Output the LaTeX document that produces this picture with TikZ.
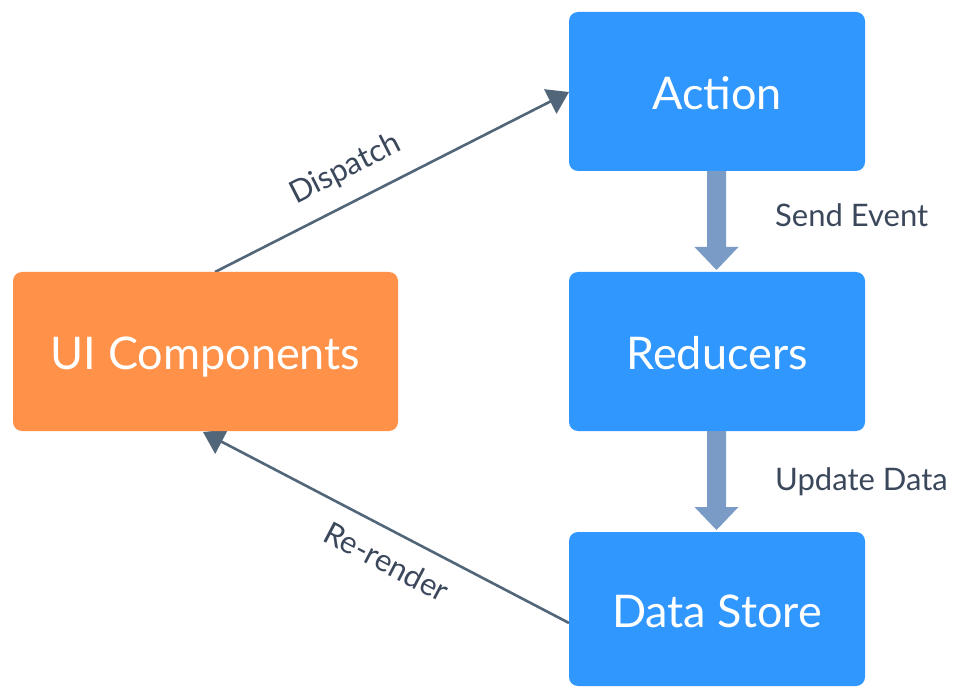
\documentclass[tikz,border=0pt]{standalone}
\usepackage{fontspec}
\setmainfont{Lato}
\usetikzlibrary{arrows.meta}
\definecolor{boxblue}{HTML}{3097FF}
\definecolor{boxorange}{HTML}{FF9149}
\definecolor{linkgray}{HTML}{52667A}
\definecolor{fatarrow}{HTML}{7A9BC6}
\definecolor{labeltext}{HTML}{3B485C}
\begin{document}
\begin{tikzpicture}[x=1pt,y=-1pt,
  box/.style={draw=none,rounded corners=9pt,minimum width=296pt,minimum height=159pt,inner sep=0pt,text=white,font=\fontsize{45}{50}\selectfont,fill=boxblue,text depth=0pt},
  uibox/.style={box,fill=boxorange,minimum width=385pt},
  link/.style={draw=linkgray,line width=2.6pt,-{Triangle[length=21pt,width=27pt]}},
  fat/.style={draw=none,fill=fatarrow},
  lbl/.style={text=labeltext,font=\fontsize{31}{34}\selectfont,inner sep=0pt}]
\useasboundingbox (0,0) rectangle (954,687);
\fill[white] (0,0) rectangle (954,687);
% boxes
\node[box] (action) at (717,91.5) {\raisebox{-4pt}{Action}};
\node[box] (reducers) at (717,351.5) {\raisebox{-2pt}{Reducers}};
\node[box,minimum height=154pt] (store) at (717,609) {\raisebox{-4pt}{Data Store}};
% fat arrows
\coordinate (f1) at (716.5,171);
\coordinate (f2) at (716.5,270);
\coordinate (g1) at (716.5,431);
\coordinate (g2) at (716.5,530);
\fill[fat] ([xshift=-9.5pt]f1) -- ([xshift=9.5pt]f1) -- ([xshift=9.5pt,yshift=23pt]f2) -- ([xshift=22pt,yshift=23pt]f2) -- (f2) -- ([xshift=-22pt,yshift=23pt]f2) -- ([xshift=-9.5pt,yshift=23pt]f2) -- cycle;
\fill[fat] ([xshift=-9.5pt]g1) -- ([xshift=9.5pt]g1) -- ([xshift=9.5pt,yshift=23pt]g2) -- ([xshift=22pt,yshift=23pt]g2) -- (g2) -- ([xshift=-22pt,yshift=23pt]g2) -- ([xshift=-9.5pt,yshift=23pt]g2) -- cycle;
% links
\coordinate (d0) at (215,272);
\coordinate (d1) at (569,92);
\draw[link] (d0) -- (d1) node[lbl,pos=0.41,sloped,above=17pt,anchor=south] (dl) {Dispatch};
\coordinate (r0) at (569,623);
\coordinate (r1) at (203,432);
\draw[link] (r0) -- (r1) node[lbl,pos=0.46,sloped,below=17pt,anchor=north] (rl) {Re-render};
% UI box drawn over the arrow tip
\node[uibox] (ui) at (205.5,351.5) {\raisebox{-4pt}{UI Components}};
% side labels
\node[lbl,anchor=west] (se) at (775,215) {Send Event};
\node[lbl,anchor=west] (ud) at (775,482) {Update Data};
\end{tikzpicture}
\end{document}
